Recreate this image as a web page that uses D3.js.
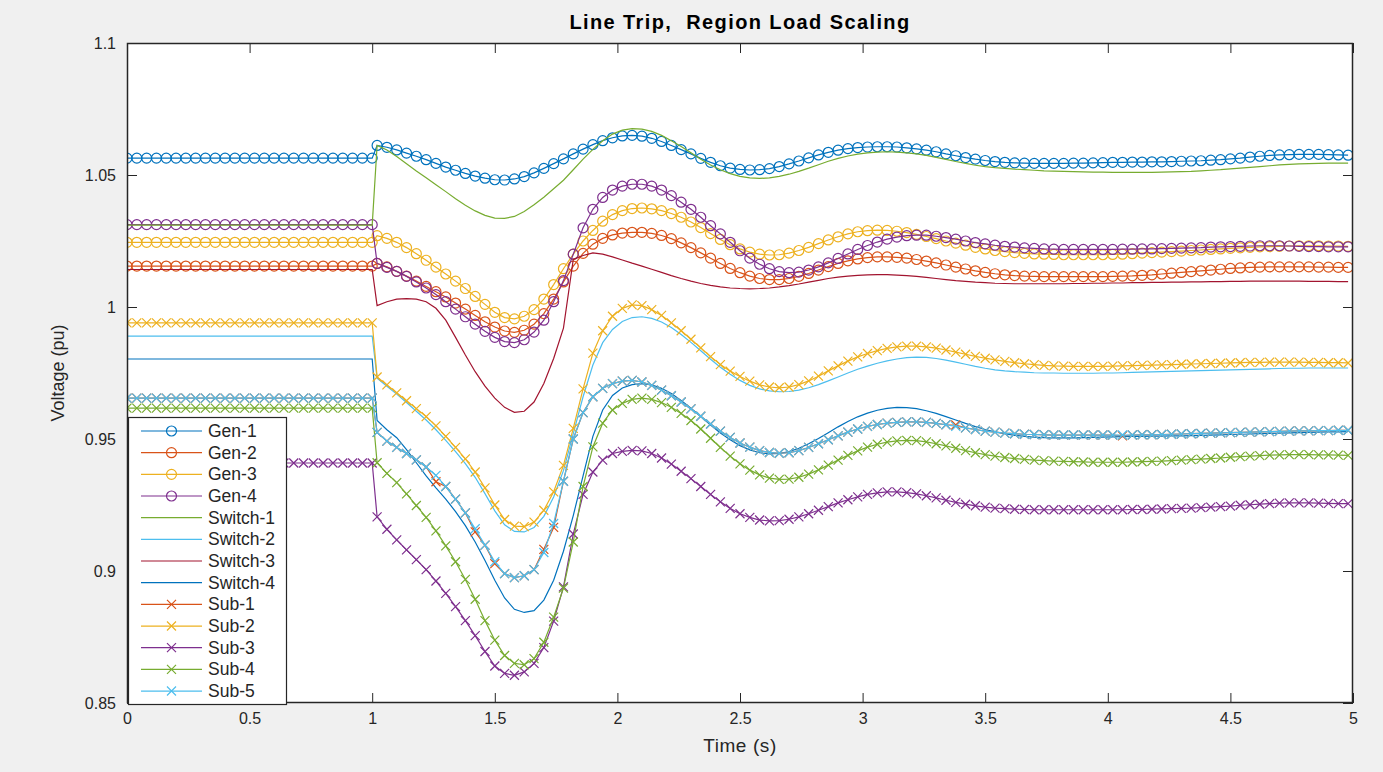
<!DOCTYPE html>
<html>
<head>
<meta charset="utf-8">
<script src="https://cdn.jsdelivr.net/npm/d3@7"></script>
<style>
  body { margin: 0; background: #fff; }
  svg { display: block; font-family: "Liberation Sans", Arial, sans-serif; }
</style>
</head>
<body>
<svg id="chart" width="1383" height="772"></svg>
<script>
// sample times (s): 0.04 s grid up to the trip, then the post-trip grid
const time = d3.range(26).map(i => +(i * 0.04).toFixed(2))
  .concat(d3.range(100).map(i => +(1.02 + i * 0.04).toFixed(2)));

const seriesNames = ["Gen-1", "Gen-2", "Gen-3", "Gen-4", "Switch-1", "Switch-2", "Switch-3", "Switch-4",
  "Sub-1", "Sub-2", "Sub-3", "Sub-4", "Sub-5"];
const seriesMarkers = ["o", "o", "o", "o", "", "", "", "", "x", "x", "x", "x", "x"];
const seriesColors = ["#0072BD", "#D95319", "#EDB120", "#7E2F8E", "#77AC30", "#4DBEEE", "#A2142F", "#0072BD",
  "#D95319", "#EDB120", "#7E2F8E", "#77AC30", "#4DBEEE"];

const xTicks = [0, 0.5, 1, 1.5, 2, 2.5, 3, 3.5, 4, 4.5, 5];
const yTicks = [0.85, 0.9, 0.95, 1, 1.05, 1.1];

// voltages (pu), one value per sample time
const gen1 = [
  1.0564,1.0564,1.0564,1.0564,1.0564,1.0564,1.0564,1.0564,1.0564,1.0564,1.0564,1.0564,1.0564,
  1.0564,1.0564,1.0564,1.0564,1.0564,1.0564,1.0564,1.0564,1.0564,1.0564,1.0564,1.0564,1.0564,
  1.0612,1.0605,1.0595,1.0583,1.0571,1.0558,1.0544,1.0530,1.0518,1.0506,1.0496,1.0488,1.0482,1.0481,1.0485,
  1.0494,1.0508,1.0525,1.0543,1.0561,1.0580,1.0598,1.0615,1.0630,1.0641,1.0648,1.0650,1.0647,1.0639,1.0627,
  1.0612,1.0596,1.0580,1.0563,1.0548,1.0535,1.0526,1.0521,1.0519,1.0520,1.0524,1.0532,1.0542,1.0553,1.0565,
  1.0576,1.0586,1.0594,1.0600,1.0604,1.0606,1.0607,1.0607,1.0606,1.0603,1.0599,1.0594,1.0588,1.0580,1.0573,
  1.0566,1.0560,1.0555,1.0551,1.0548,1.0546,1.0545,1.0544,1.0544,1.0544,1.0544,1.0545,1.0545,1.0546,1.0547,
  1.0548,1.0548,1.0549,1.0549,1.0550,1.0550,1.0551,1.0552,1.0553,1.0554,1.0556,1.0558,1.0561,1.0564,1.0568,
  1.0571,1.0574,1.0576,1.0577,1.0578,1.0578,1.0578,1.0577,1.0576,1.0575
];
const gen2 = [
  1.0155,1.0155,1.0155,1.0155,1.0155,1.0155,1.0155,1.0155,1.0155,1.0155,1.0155,1.0155,1.0155,
  1.0155,1.0155,1.0155,1.0155,1.0155,1.0155,1.0155,1.0155,1.0155,1.0155,1.0155,1.0155,1.0155,
  1.0165,1.0152,1.0135,1.0117,1.0098,1.0078,1.0058,1.0038,1.0015,0.9992,0.9968,0.9944,0.9924,0.9909,0.9904,
  0.9912,0.9935,0.9975,1.0030,1.0095,1.0155,1.0203,1.0238,1.0260,1.0273,1.0280,1.0283,1.0283,1.0279,1.0271,
  1.0259,1.0243,1.0225,1.0205,1.0185,1.0165,1.0146,1.0130,1.0117,1.0108,1.0104,1.0104,1.0108,1.0116,1.0127,
  1.0140,1.0153,1.0165,1.0175,1.0182,1.0187,1.0190,1.0190,1.0188,1.0185,1.0180,1.0174,1.0167,1.0159,1.0151,
  1.0144,1.0137,1.0131,1.0126,1.0122,1.0119,1.0117,1.0116,1.0115,1.0115,1.0115,1.0115,1.0115,1.0115,1.0115,
  1.0116,1.0117,1.0118,1.0120,1.0122,1.0125,1.0128,1.0131,1.0134,1.0137,1.0140,1.0143,1.0146,1.0148,1.0150,
  1.0151,1.0152,1.0152,1.0152,1.0152,1.0152,1.0151,1.0151,1.0150,1.0150
];
const gen3 = [
  1.0245,1.0245,1.0245,1.0245,1.0245,1.0245,1.0245,1.0245,1.0245,1.0245,1.0245,1.0245,1.0245,
  1.0245,1.0245,1.0245,1.0245,1.0245,1.0245,1.0245,1.0245,1.0245,1.0245,1.0245,1.0245,1.0245,
  1.0270,1.0260,1.0245,1.0225,1.0202,1.0177,1.0151,1.0125,1.0098,1.0070,1.0040,1.0010,0.9980,0.9960,0.9955,
  0.9965,0.9990,1.0030,1.0085,1.0145,1.0200,1.0250,1.0290,1.0325,1.0350,1.0365,1.0373,1.0375,1.0372,1.0365,
  1.0354,1.0340,1.0322,1.0301,1.0278,1.0256,1.0236,1.0220,1.0208,1.0200,1.0197,1.0198,1.0204,1.0214,1.0226,
  1.0240,1.0254,1.0266,1.0277,1.0285,1.0289,1.0291,1.0290,1.0287,1.0282,1.0275,1.0267,1.0259,1.0250,1.0242,
  1.0234,1.0226,1.0220,1.0214,1.0210,1.0206,1.0203,1.0201,1.0200,1.0199,1.0198,1.0198,1.0198,1.0198,1.0198,
  1.0199,1.0200,1.0202,1.0204,1.0206,1.0208,1.0210,1.0212,1.0214,1.0216,1.0218,1.0220,1.0222,1.0224,1.0226,
  1.0228,1.0229,1.0230,1.0231,1.0232,1.0232,1.0232,1.0231,1.0231,1.0230
];
const gen4 = [
  1.0312,1.0312,1.0312,1.0312,1.0312,1.0312,1.0312,1.0312,1.0312,1.0312,1.0312,1.0312,1.0312,
  1.0312,1.0312,1.0312,1.0312,1.0312,1.0312,1.0312,1.0312,1.0312,1.0312,1.0312,1.0312,1.0312,
  1.0165,1.0150,1.0135,1.0116,1.0095,1.0072,1.0047,1.0020,0.9992,0.9963,0.9935,0.9908,0.9885,0.9869,0.9865,
  0.9876,0.9905,0.9950,1.0020,1.0100,1.0200,1.0300,1.0370,1.0415,1.0443,1.0458,1.0465,1.0465,1.0458,1.0443,
  1.0422,1.0397,1.0370,1.0340,1.0308,1.0277,1.0245,1.0213,1.0185,1.0162,1.0145,1.0134,1.0130,1.0132,1.0140,
  1.0152,1.0167,1.0184,1.0201,1.0218,1.0233,1.0246,1.0257,1.0265,1.0270,1.0272,1.0272,1.0268,1.0263,1.0257,
  1.0250,1.0244,1.0239,1.0234,1.0230,1.0227,1.0224,1.0222,1.0220,1.0219,1.0218,1.0218,1.0218,1.0218,1.0218,
  1.0218,1.0219,1.0219,1.0220,1.0220,1.0221,1.0222,1.0223,1.0224,1.0225,1.0227,1.0228,1.0229,1.0230,1.0231,
  1.0232,1.0232,1.0232,1.0231,1.0230,1.0229,1.0229,1.0228,1.0228,1.0228
];
const switch1 = [
  1.0310,1.0310,1.0310,1.0310,1.0310,1.0310,1.0310,1.0310,1.0310,1.0310,1.0310,1.0310,1.0310,
  1.0310,1.0310,1.0310,1.0310,1.0310,1.0310,1.0310,1.0310,1.0310,1.0310,1.0310,1.0310,1.0310,
  1.0612,1.0595,1.0570,1.0543,1.0515,1.0490,1.0463,1.0437,1.0410,1.0385,1.0364,1.0347,1.0337,1.0336,1.0343,
  1.0362,1.0387,1.0416,1.0448,1.0480,1.0520,1.0560,1.0597,1.0630,1.0655,1.0670,1.0676,1.0674,1.0665,1.0650,
  1.0630,1.0608,1.0584,1.0560,1.0538,1.0520,1.0505,1.0495,1.0489,1.0487,1.0489,1.0495,1.0503,1.0514,1.0526,
  1.0539,1.0552,1.0563,1.0572,1.0579,1.0584,1.0587,1.0588,1.0587,1.0584,1.0580,1.0574,1.0567,1.0559,1.0551,
  1.0544,1.0537,1.0532,1.0528,1.0525,1.0522,1.0520,1.0518,1.0516,1.0515,1.0514,1.0513,1.0512,1.0511,1.0511,
  1.0510,1.0510,1.0510,1.0510,1.0510,1.0511,1.0512,1.0513,1.0514,1.0516,1.0518,1.0520,1.0523,1.0526,1.0529,
  1.0532,1.0535,1.0538,1.0540,1.0542,1.0543,1.0544,1.0545,1.0545,1.0545
];
const switch2 = [
  0.9890,0.9890,0.9890,0.9890,0.9890,0.9890,0.9890,0.9890,0.9890,0.9890,0.9890,0.9890,0.9890,
  0.9890,0.9890,0.9890,0.9890,0.9890,0.9890,0.9890,0.9890,0.9890,0.9890,0.9890,0.9890,0.9890,
  0.9730,0.9700,0.9670,0.9638,0.9605,0.9572,0.9535,0.9495,0.9452,0.9407,0.9355,0.9293,0.9228,0.9175,0.9150,
  0.9148,0.9165,0.9207,0.9280,0.9380,0.9520,0.9660,0.9780,0.9865,0.9915,0.9945,0.9960,0.9963,0.9957,0.9943,
  0.9922,0.9896,0.9866,0.9834,0.9802,0.9772,0.9745,0.9722,0.9703,0.9690,0.9682,0.9679,0.9680,0.9685,0.9694,
  0.9706,0.9720,0.9735,0.9750,0.9764,0.9776,0.9787,0.9796,0.9803,0.9808,0.9810,0.9809,0.9805,0.9799,0.9791,
  0.9783,0.9775,0.9768,0.9762,0.9758,0.9755,0.9753,0.9751,0.9750,0.9750,0.9749,0.9749,0.9749,0.9749,0.9750,
  0.9750,0.9751,0.9752,0.9753,0.9754,0.9755,0.9756,0.9757,0.9758,0.9759,0.9760,0.9761,0.9762,0.9763,0.9764,
  0.9765,0.9766,0.9767,0.9768,0.9768,0.9769,0.9769,0.9769,0.9769,0.9769
];
const switch3 = [
  1.0142,1.0142,1.0142,1.0142,1.0142,1.0142,1.0142,1.0142,1.0142,1.0142,1.0142,1.0142,1.0142,
  1.0142,1.0142,1.0142,1.0142,1.0142,1.0142,1.0142,1.0142,1.0142,1.0142,1.0142,1.0142,1.0142,
  1.0005,1.0020,1.0030,1.0032,1.0030,1.0020,0.9995,0.9950,0.9885,0.9818,0.9755,0.9700,0.9655,0.9620,0.9601,
  0.9605,0.9640,0.9710,0.9805,0.9920,1.0180,1.0195,1.0205,1.0200,1.0190,1.0178,1.0166,1.0155,1.0143,1.0131,
  1.0119,1.0108,1.0098,1.0089,1.0082,1.0076,1.0072,1.0070,1.0069,1.0070,1.0072,1.0076,1.0081,1.0087,1.0094,
  1.0101,1.0108,1.0113,1.0117,1.0120,1.0122,1.0123,1.0123,1.0121,1.0119,1.0116,1.0112,1.0108,1.0104,1.0100,
  1.0097,1.0094,1.0092,1.0090,1.0089,1.0088,1.0088,1.0088,1.0088,1.0088,1.0088,1.0089,1.0089,1.0090,1.0090,
  1.0091,1.0091,1.0092,1.0092,1.0093,1.0093,1.0094,1.0094,1.0095,1.0095,1.0096,1.0096,1.0097,1.0097,1.0098,
  1.0098,1.0098,1.0098,1.0098,1.0098,1.0097,1.0097,1.0097,1.0096,1.0096
];
const switch4 = [
  0.9803,0.9803,0.9803,0.9803,0.9803,0.9803,0.9803,0.9803,0.9803,0.9803,0.9803,0.9803,0.9803,
  0.9803,0.9803,0.9803,0.9803,0.9803,0.9803,0.9803,0.9803,0.9803,0.9803,0.9803,0.9803,0.9803,
  0.9570,0.9535,0.9505,0.9460,0.9410,0.9360,0.9315,0.9272,0.9225,0.9172,0.9110,0.9040,0.8965,0.8898,0.8855,
  0.8843,0.8850,0.8890,0.8965,0.9075,0.9210,0.9360,0.9510,0.9610,0.9665,0.9693,0.9706,0.9710,0.9705,0.9692,
  0.9672,0.9646,0.9617,0.9585,0.9553,0.9523,0.9497,0.9475,0.9459,0.9448,0.9444,0.9445,0.9452,0.9465,0.9482,
  0.9502,0.9524,0.9546,0.9566,0.9584,0.9598,0.9609,0.9616,0.9620,0.9619,0.9615,0.9607,0.9597,0.9585,0.9572,
  0.9559,0.9547,0.9536,0.9527,0.9520,0.9514,0.9510,0.9507,0.9505,0.9504,0.9504,0.9504,0.9505,0.9506,0.9507,
  0.9508,0.9509,0.9510,0.9510,0.9511,0.9511,0.9512,0.9512,0.9513,0.9514,0.9515,0.9516,0.9517,0.9518,0.9519,
  0.9520,0.9521,0.9522,0.9523,0.9524,0.9525,0.9526,0.9527,0.9527,0.9528
];
const sub1 = [
  0.9655,0.9655,0.9655,0.9655,0.9655,0.9655,0.9655,0.9655,0.9655,0.9655,0.9655,0.9655,0.9655,
  0.9655,0.9655,0.9655,0.9655,0.9655,0.9655,0.9655,0.9655,0.9655,0.9655,0.9655,0.9655,0.9655,
  0.9525,0.9492,0.9468,0.9445,0.9421,0.9394,0.9338,0.9320,0.9272,0.9220,0.9148,0.9098,0.9028,0.8990,0.8975,
  0.8982,0.9005,0.9082,0.9165,0.9340,0.9500,0.9600,0.9660,0.9692,0.9710,0.9719,0.9722,0.9716,0.9703,0.9685,
  0.9664,0.9640,0.9614,0.9586,0.9557,0.9530,0.9506,0.9485,0.9469,0.9456,0.9449,0.9446,0.9448,0.9456,0.9468,
  0.9482,0.9497,0.9512,0.9526,0.9538,0.9548,0.9555,0.9560,0.9563,0.9565,0.9565,0.9563,0.9559,0.9554,0.9553,
  0.9542,0.9536,0.9530,0.9526,0.9522,0.9520,0.9518,0.9517,0.9516,0.9515,0.9515,0.9515,0.9515,0.9515,0.9515,
  0.9515,0.9512,0.9515,0.9516,0.9516,0.9517,0.9518,0.9519,0.9520,0.9521,0.9522,0.9523,0.9524,0.9525,0.9526,
  0.9527,0.9528,0.9529,0.9530,0.9531,0.9531,0.9532,0.9532,0.9533,0.9533
];
const sub2 = [
  0.9940,0.9940,0.9940,0.9940,0.9940,0.9940,0.9940,0.9940,0.9940,0.9940,0.9940,0.9940,0.9940,
  0.9940,0.9940,0.9940,0.9940,0.9940,0.9940,0.9940,0.9940,0.9940,0.9940,0.9940,0.9940,0.9940,
  0.9735,0.9705,0.9675,0.9645,0.9615,0.9585,0.9550,0.9510,0.9468,0.9425,0.9375,0.9315,0.9250,0.9195,0.9170,
  0.9168,0.9185,0.9230,0.9300,0.9400,0.9540,0.9690,0.9825,0.9910,0.9965,0.9995,1.0008,1.0005,0.9990,0.9968,
  0.9940,0.9910,0.9878,0.9845,0.9812,0.9782,0.9757,0.9737,0.9719,0.9705,0.9697,0.9694,0.9697,0.9706,0.9720,
  0.9738,0.9758,0.9777,0.9795,0.9811,0.9824,0.9835,0.9843,0.9849,0.9852,0.9852,0.9849,0.9844,0.9837,0.9829,
  0.9821,0.9813,0.9806,0.9800,0.9794,0.9789,0.9785,0.9782,0.9779,0.9777,0.9776,0.9775,0.9775,0.9775,0.9775,
  0.9776,0.9777,0.9778,0.9779,0.9780,0.9781,0.9782,0.9783,0.9784,0.9785,0.9786,0.9787,0.9788,0.9789,0.9790,
  0.9790,0.9791,0.9791,0.9791,0.9791,0.9790,0.9790,0.9789,0.9789,0.9788
];
const sub3 = [
  0.9409,0.9409,0.9409,0.9409,0.9409,0.9409,0.9409,0.9409,0.9409,0.9409,0.9409,0.9409,0.9409,
  0.9409,0.9409,0.9409,0.9409,0.9409,0.9409,0.9409,0.9409,0.9409,0.9409,0.9409,0.9409,0.9409,
  0.9205,0.9158,0.9118,0.9080,0.9043,0.9005,0.8962,0.8915,0.8865,0.8812,0.8755,0.8695,0.8640,0.8612,0.8605,
  0.8618,0.8650,0.8710,0.8810,0.8940,0.9140,0.9290,0.9375,0.9420,0.9445,0.9453,0.9457,0.9455,0.9445,0.9428,
  0.9405,0.9378,0.9350,0.9320,0.9290,0.9262,0.9237,0.9217,0.9203,0.9193,0.9190,0.9191,0.9196,0.9205,0.9217,
  0.9230,0.9244,0.9258,0.9270,0.9281,0.9290,0.9296,0.9300,0.9300,0.9297,0.9292,0.9285,0.9277,0.9268,0.9260,
  0.9253,0.9247,0.9242,0.9238,0.9236,0.9234,0.9233,0.9232,0.9232,0.9232,0.9232,0.9232,0.9232,0.9232,0.9232,
  0.9232,0.9232,0.9233,0.9233,0.9234,0.9235,0.9236,0.9237,0.9238,0.9240,0.9242,0.9244,0.9246,0.9249,0.9251,
  0.9253,0.9255,0.9257,0.9258,0.9258,0.9258,0.9257,0.9256,0.9255,0.9255
];
const sub4 = [
  0.9617,0.9617,0.9617,0.9617,0.9617,0.9617,0.9617,0.9617,0.9617,0.9617,0.9617,0.9617,0.9617,
  0.9617,0.9617,0.9617,0.9617,0.9617,0.9617,0.9617,0.9617,0.9617,0.9617,0.9617,0.9617,0.9617,
  0.9410,0.9370,0.9335,0.9292,0.9248,0.9203,0.9152,0.9095,0.9035,0.8968,0.8893,0.8812,0.8738,0.8680,0.8650,
  0.8645,0.8668,0.8730,0.8825,0.8935,0.9110,0.9320,0.9470,0.9560,0.9610,0.9635,0.9650,0.9655,0.9650,0.9638,
  0.9620,0.9597,0.9570,0.9538,0.9503,0.9468,0.9435,0.9406,0.9382,0.9364,0.9352,0.9347,0.9348,0.9355,0.9367,
  0.9383,0.9401,0.9420,0.9438,0.9455,0.9469,0.9480,0.9488,0.9493,0.9495,0.9494,0.9489,0.9482,0.9474,0.9465,
  0.9456,0.9448,0.9441,0.9435,0.9430,0.9426,0.9423,0.9420,0.9418,0.9416,0.9415,0.9414,0.9413,0.9412,0.9412,
  0.9412,0.9412,0.9413,0.9414,0.9415,0.9416,0.9418,0.9420,0.9422,0.9424,0.9426,0.9428,0.9431,0.9433,0.9435,
  0.9437,0.9439,0.9440,0.9441,0.9441,0.9441,0.9440,0.9440,0.9439,0.9438
];
const sub5 = [
  0.9655,0.9655,0.9655,0.9655,0.9655,0.9655,0.9655,0.9655,0.9655,0.9655,0.9655,0.9655,0.9655,
  0.9655,0.9655,0.9655,0.9655,0.9655,0.9655,0.9655,0.9655,0.9655,0.9655,0.9655,0.9655,0.9655,
  0.9525,0.9492,0.9468,0.9445,0.9421,0.9394,0.9362,0.9320,0.9272,0.9220,0.9160,0.9098,0.9035,0.8990,0.8975,
  0.8982,0.9005,0.9070,0.9180,0.9340,0.9500,0.9600,0.9660,0.9692,0.9710,0.9719,0.9722,0.9716,0.9703,0.9685,
  0.9664,0.9640,0.9614,0.9586,0.9557,0.9530,0.9506,0.9485,0.9469,0.9456,0.9449,0.9446,0.9448,0.9456,0.9468,
  0.9482,0.9497,0.9512,0.9526,0.9538,0.9548,0.9555,0.9560,0.9563,0.9565,0.9565,0.9563,0.9559,0.9554,0.9548,
  0.9542,0.9536,0.9530,0.9526,0.9522,0.9520,0.9518,0.9517,0.9516,0.9515,0.9515,0.9515,0.9515,0.9515,0.9515,
  0.9515,0.9515,0.9515,0.9516,0.9516,0.9517,0.9518,0.9519,0.9520,0.9521,0.9522,0.9523,0.9524,0.9525,0.9526,
  0.9527,0.9528,0.9529,0.9530,0.9531,0.9531,0.9532,0.9532,0.9533,0.9533
];

const seriesValues = [gen1, gen2, gen3, gen4, switch1, switch2, switch3, switch4, sub1, sub2, sub3, sub4, sub5];

const svg = d3.select("#chart");
const W = 1383, H = 772;
const margin = { top: 43, right: 30, bottom: 69, left: 127 };
const plotW = W - margin.left - margin.right;
const plotH = H - margin.top - margin.bottom;
const axisColor = "#262626";

// figure background (matlab grey)
svg.append("rect").attr("x", 0).attr("y", 0).attr("width", W).attr("height", H).attr("fill", "#f0f0f0");

const x = d3.scaleLinear().domain([0, 5]).range([margin.left, margin.left + plotW]);
const y = d3.scaleLinear().domain([0.85, 1.1]).range([margin.top + plotH, margin.top]);

// plot area
svg.append("rect")
  .attr("x", margin.left).attr("y", margin.top)
  .attr("width", plotW).attr("height", plotH)
  .attr("fill", "#fff");

svg.append("clipPath").attr("id", "plot-clip")
  .append("rect")
  .attr("x", margin.left).attr("y", margin.top)
  .attr("width", plotW).attr("height", plotH);

const plotGroup = svg.append("g").attr("clip-path", "url(#plot-clip)");

const line = d3.line()
  .x((d, i) => x(time[i]))
  .y(d => y(d));

const markerR = 5;
const crossPath = "M-4.5,-4.5L4.5,4.5M-4.5,4.5L4.5,-4.5";

// draw each series: line then markers, in plotting order
seriesValues.forEach((vals, s) => {
  const color = seriesColors[s];
  const g = plotGroup.append("g").attr("class", "series");

  g.append("path")
    .attr("d", line(vals))
    .attr("fill", "none")
    .attr("stroke", color)
    .attr("stroke-width", 1.2);

  if (seriesMarkers[s] === "o") {
    g.selectAll("circle")
      .data(vals)
      .enter()
      .append("circle")
      .attr("cx", (d, i) => x(time[i]))
      .attr("cy", d => y(d))
      .attr("r", markerR)
      .attr("fill", "none")
      .attr("stroke", color)
      .attr("stroke-width", 1.2);
  } else if (seriesMarkers[s] === "x") {
    g.selectAll("path.mk")
      .data(vals)
      .enter()
      .append("path")
      .attr("class", "mk")
      .attr("transform", (d, i) => `translate(${x(time[i])},${y(d)})`)
      .attr("d", crossPath)
      .attr("stroke", color)
      .attr("stroke-width", 1.2);
  }
});

// axes with inward ticks on all four sides
const tickLen = 10;
const fmt = d => d3.format("")(+d.toFixed(2));

const xAxisBottom = svg.append("g")
  .attr("transform", `translate(0,${margin.top + plotH})`)
  .call(d3.axisBottom(x).tickValues(xTicks).tickSizeInner(-tickLen).tickSizeOuter(0).tickPadding(10).tickFormat(fmt));
const xAxisTop = svg.append("g")
  .attr("transform", `translate(0,${margin.top})`)
  .call(d3.axisTop(x).tickValues(xTicks).tickSizeInner(-tickLen).tickSizeOuter(0).tickFormat(""));
const yAxisLeft = svg.append("g")
  .attr("transform", `translate(${margin.left},0)`)
  .call(d3.axisLeft(y).tickValues(yTicks).tickSizeInner(-tickLen).tickSizeOuter(0).tickPadding(11).tickFormat(fmt));
const yAxisRight = svg.append("g")
  .attr("transform", `translate(${margin.left + plotW},0)`)
  .call(d3.axisRight(y).tickValues(yTicks).tickSizeInner(-tickLen).tickSizeOuter(0).tickFormat(""));

[xAxisBottom, xAxisTop, yAxisLeft, yAxisRight].forEach(a => {
  a.select(".domain").remove();
  a.selectAll(".tick line").attr("stroke", axisColor).attr("stroke-width", 1);
  a.selectAll(".tick text")
    .attr("fill", axisColor)
    .style("font-size", "16px")
    .style("font-family", "'Liberation Sans', Arial, sans-serif");
});

// axes box
svg.append("rect")
  .attr("x", margin.left + 0.5).attr("y", margin.top + 0.5)
  .attr("width", plotW - 1).attr("height", plotH - 1)
  .attr("fill", "none")
  .attr("stroke", axisColor)
  .attr("stroke-width", 1.5);

// title and axis labels
svg.append("text")
  .attr("x", margin.left + plotW / 2)
  .attr("y", 29)
  .attr("text-anchor", "middle")
  .attr("fill", "#000")
  .style("font-size", "20px")
  .style("font-weight", "bold")
  .style("letter-spacing", "1.4px")
  .style("white-space", "pre")
  .text("Line Trip,  Region Load Scaling");

svg.append("text")
  .attr("x", margin.left + plotW / 2)
  .attr("y", 752)
  .attr("text-anchor", "middle")
  .attr("fill", axisColor)
  .style("font-size", "19px")
  .style("letter-spacing", "0.6px")
  .text("Time (s)");

svg.append("text")
  .attr("transform", `translate(64,${margin.top + plotH / 2}) rotate(-90)`)
  .attr("text-anchor", "middle")
  .attr("fill", axisColor)
  .style("font-size", "18px")
  .text("Voltage (pu)");

// legend
const legend = svg.append("g").attr("class", "legend");
const legX = 128, legY = 417, legW = 158, legH = 287, rowH = 21.67;

legend.append("rect")
  .attr("x", legX + 0.5).attr("y", legY + 0.5)
  .attr("width", legW).attr("height", legH)
  .attr("fill", "#fff")
  .attr("stroke", axisColor)
  .attr("stroke-width", 1.2);

seriesNames.forEach((name, s) => {
  const cy = legY + 14 + s * rowH;
  const color = seriesColors[s];
  const row = legend.append("g");
  row.append("line")
    .attr("x1", legX + 13).attr("x2", legX + 74)
    .attr("y1", cy).attr("y2", cy)
    .attr("stroke", color).attr("stroke-width", 1.2);
  if (seriesMarkers[s] === "o") {
    row.append("circle")
      .attr("cx", legX + 43.5).attr("cy", cy).attr("r", markerR)
      .attr("fill", "none").attr("stroke", color).attr("stroke-width", 1.2);
  } else if (seriesMarkers[s] === "x") {
    row.append("path")
      .attr("transform", `translate(${legX + 43.5},${cy})`)
      .attr("d", crossPath)
      .attr("stroke", color).attr("stroke-width", 1.2);
  }
  row.append("text")
    .attr("x", legX + 80)
    .attr("y", cy)
    .attr("dy", "0.35em")
    .attr("fill", axisColor)
    .style("font-size", "17.5px")
    .text(name);
});
</script>
</body>
</html>
